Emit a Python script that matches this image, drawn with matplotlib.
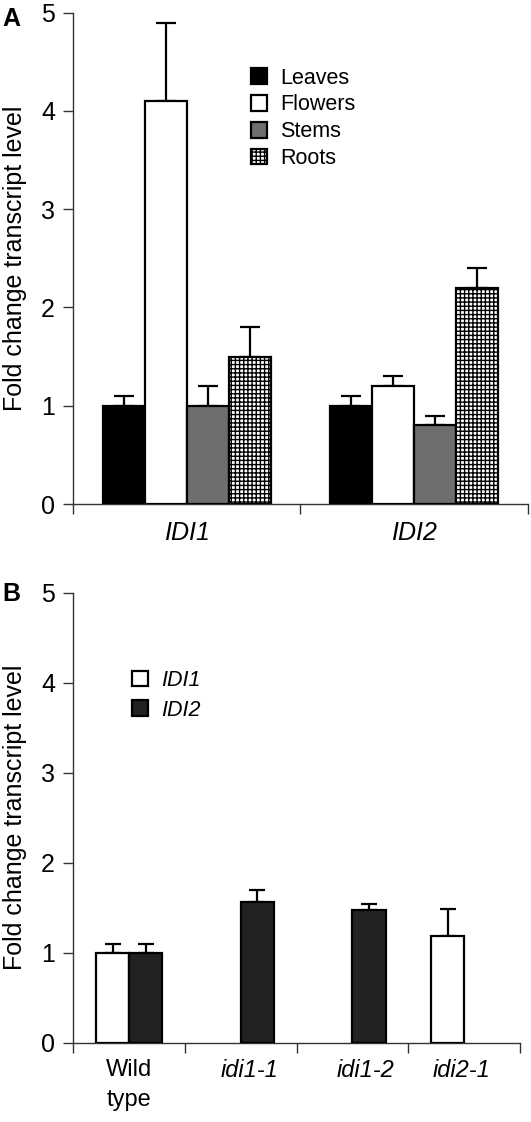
import numpy as np
import matplotlib.pyplot as plt

plt.rcParams['font.family'] = ['Liberation Sans', 'DejaVu Sans']
plt.rcParams['hatch.linewidth'] = 1.0

# ---- panel A data ----
genes = ["IDI1", "IDI2"]
tissues = ["Leaves", "Flowers", "Stems", "Roots"]
tissue_vals = {
    "Leaves": [1.0, 1.0],
    "Flowers": [4.1, 1.2],
    "Stems": [1.0, 0.8],
    "Roots": [1.5, 2.2],
}
tissue_err = {
    "Leaves": [0.1, 0.1],
    "Flowers": [0.8, 0.1],
    "Stems": [0.2, 0.1],
    "Roots": [0.3, 0.2],
}

# ---- panel B data ----
lines = ["Wild\ntype", "idi1-1", "idi1-2", "idi2-1"]
line_italic = [False, True, True, True]
idi1_vals = [1.0, np.nan, np.nan, 1.19]
idi1_err = [0.1, np.nan, np.nan, 0.30]
idi2_vals = [1.0, 1.56, 1.47, np.nan]
idi2_err = [0.1, 0.14, 0.07, np.nan]

TICK_FS = 18
LAB_FS = 18
LEG_FS = 15.5
AX_COL = "#333333"

fig = plt.figure(figsize=(5.31, 11.22), dpi=100)


def style_axes(ax):
    for s in ["top", "right"]:
        ax.spines[s].set_visible(False)
    for s in ["left", "bottom"]:
        ax.spines[s].set_linewidth(1.0)
        ax.spines[s].set_color(AX_COL)
    ax.tick_params(axis="x", which="major", length=0, pad=12)
    ax.tick_params(axis="x", which="minor", length=7.5, width=1.0, color=AX_COL)
    ax.tick_params(axis="y", length=7.2, width=1.0, color=AX_COL,
                   labelsize=TICK_FS, pad=6)
    ax.set_ylim(0, 5)
    ax.set_yticks(range(6))
    ax.set_ylabel("Fold change transcript level", fontsize=LAB_FS, labelpad=10)


# ======================
# A
# ======================
axA = fig.add_axes([0.138, 0.5508, 0.8558, 0.4379])
styles = {
    "Leaves": dict(color="black", hatch=None),
    "Flowers": dict(color="white", hatch=None),
    "Stems": dict(color="#6e6e6e", hatch=None),
    "Roots": dict(color="white", hatch="++++"),
}
w = 0.185
x = np.arange(len(genes))
for i, t in enumerate(tissues):
    pos = x + (i - 1.5) * w
    axA.bar(pos, tissue_vals[t], width=w, color=styles[t]["color"],
            hatch=styles[t]["hatch"], edgecolor="black", linewidth=1.6,
            label=t, zorder=3)
    axA.errorbar(pos, tissue_vals[t],
                 yerr=[np.zeros(len(genes)), tissue_err[t]],
                 fmt="none", ecolor="black", elinewidth=1.6, capsize=7.2,
                 capthick=1.6, zorder=2)

axA.set_xlim(-0.5, 1.5)
style_axes(axA)
axA.set_xticks(x)
axA.set_xticklabels(genes, fontsize=TICK_FS, style="italic")
axA.set_xticks([-0.5, 0.5, 1.5], minor=True)
legA = axA.legend(loc="upper left", bbox_to_anchor=(0.367, 0.91), frameon=False,
                  fontsize=LEG_FS, handlelength=0.75, handleheight=0.75,
                  handletextpad=0.6, labelspacing=0.27, borderpad=0)
fig.text(0.005, 0.994, "A", fontsize=18, fontweight="bold", va="top")

# ======================
# B
# ======================
axB = fig.add_axes([0.138, 0.0707, 0.8412, 0.4011])
wb = 0.297
xb = np.arange(len(lines))
axB.bar(xb - wb / 2, idi1_vals, width=wb, color="white", edgecolor="black",
        linewidth=1.6, label="IDI1", zorder=3)
axB.bar(xb + wb / 2, idi2_vals, width=wb, color="#222222", edgecolor="black",
        linewidth=1.6, label="IDI2", zorder=3)
axB.errorbar(xb - wb / 2, idi1_vals, yerr=[np.zeros(len(lines)), idi1_err],
             fmt="none", ecolor="black", elinewidth=1.6, capsize=6,
             capthick=1.6, zorder=2)
axB.errorbar(xb + wb / 2, idi2_vals, yerr=[np.zeros(len(lines)), idi2_err],
             fmt="none", ecolor="black", elinewidth=1.6, capsize=6,
             capthick=1.6, zorder=2)

axB.set_xlim(-0.5, 3.5)
style_axes(axB)
# labels sit a little right of centre for the mutant lines, as in the figure
axB.set_xticks(xb + np.array([0.0, 0.08, 0.12, -0.02]))
axB.set_xticklabels(lines, fontsize=17, linespacing=1.45)
for lab, it in zip(axB.get_xticklabels(), line_italic):
    if it:
        lab.set_style("italic")
axB.set_xticks(np.arange(-0.5, 3.6, 1.0), minor=True)
legB = axB.legend(loc="upper left", bbox_to_anchor=(0.108, 0.852), frameon=False,
                  fontsize=LEG_FS, handlelength=0.75, handleheight=0.75,
                  handletextpad=0.6, labelspacing=0.4, borderpad=0)
for t in legB.get_texts():
    t.set_style("italic")
fig.text(0.005, 0.481, "B", fontsize=18, fontweight="bold", va="top")

fig.savefig("out.png", dpi=100)
